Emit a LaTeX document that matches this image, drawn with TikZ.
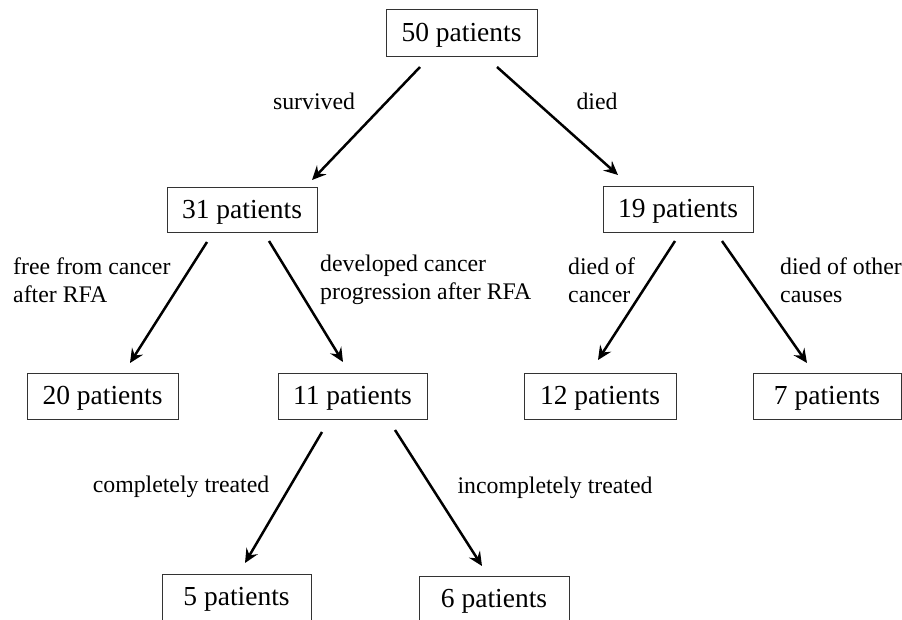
\documentclass[tikz,border=0pt]{standalone}
\usepackage{fontspec}
\setmainfont{Liberation Serif}
\usetikzlibrary{arrows.meta}
\begin{document}
\begin{tikzpicture}[x=1pt,y=-1pt,
  box/.style={draw=black!80,line width=1pt,inner sep=0pt,minimum height=46pt,text height=17pt,text depth=0pt,font=\fontsize{27.5}{30}\selectfont},
  lbl/.style={inner sep=0pt,align=left,font=\fontsize{23.8}{28}\selectfont},
  arr/.style={line width=2.5pt,-{Stealth[length=14pt,width=13pt,inset=5pt]}}]
\useasboundingbox (0,0) rectangle (902,619);
\clip (0,0) rectangle (902,619);
% boxes
\node[box,minimum width=151pt,minimum height=47pt] (n50) at (461.5,32.5) {50 patients};
\node[box,minimum width=150pt,minimum height=45pt] (n31) at (242,209.5) {31 patients};
\node[box,minimum width=150pt,minimum height=46pt] (n19) at (678,209) {19 patients};
\node[box,minimum width=151pt] (n20) at (102.5,396) {20 patients};
\node[box,minimum width=149pt] (n11) at (352.5,396) {11 patients};
\node[box,minimum width=152pt] (n12) at (600,396) {12 patients};
\node[box,minimum width=148pt] (n7) at (827,396) {7 patients};
\node[box,minimum width=149pt] (n5) at (236.5,597) {5 patients};
\node[box,minimum width=150pt] (n6) at (494,599) {6 patients};
% arrow end points
\coordinate (a1s) at (420,67);  \coordinate (a1e) at (312,180);
\coordinate (a2s) at (497,67);  \coordinate (a2e) at (618,175);
\coordinate (a3s) at (207,242); \coordinate (a3e) at (130,363);
\coordinate (a4s) at (269,241); \coordinate (a4e) at (343,362);
\coordinate (a5s) at (675,241); \coordinate (a5e) at (598,360);
\coordinate (a6s) at (722,241); \coordinate (a6e) at (807,363);
\coordinate (a7s) at (322,432); \coordinate (a7e) at (245,563);
\coordinate (a8s) at (395,430); \coordinate (a8e) at (482,566);
\draw[arr] (a1s) -- (a1e);
\draw[arr] (a2s) -- (a2e);
\draw[arr] (a3s) -- (a3e);
\draw[arr] (a4s) -- (a4e);
\draw[arr] (a5s) -- (a5e);
\draw[arr] (a6s) -- (a6e);
\draw[arr] (a7s) -- (a7e);
\draw[arr] (a8s) -- (a8e);
% labels
\node[lbl] (l1) at (314,101) {survived};
\node[lbl] (l2) at (597,101) {died};
\node[lbl,anchor=west] (l3) at (13,280) {free from cancer\\after RFA};
\node[lbl,anchor=west] (l4) at (320,280) {developed cancer\\progression after RFA};
\node[lbl,anchor=west] (l5) at (568,280) {died of\\cancer};
\node[lbl,anchor=west] (l6) at (780,280) {died of other\\causes};
\node[lbl] (l7) at (181,487) {completely treated};
\node[lbl] (l8) at (555,488) {incompletely treated};
\end{tikzpicture}
\end{document}
